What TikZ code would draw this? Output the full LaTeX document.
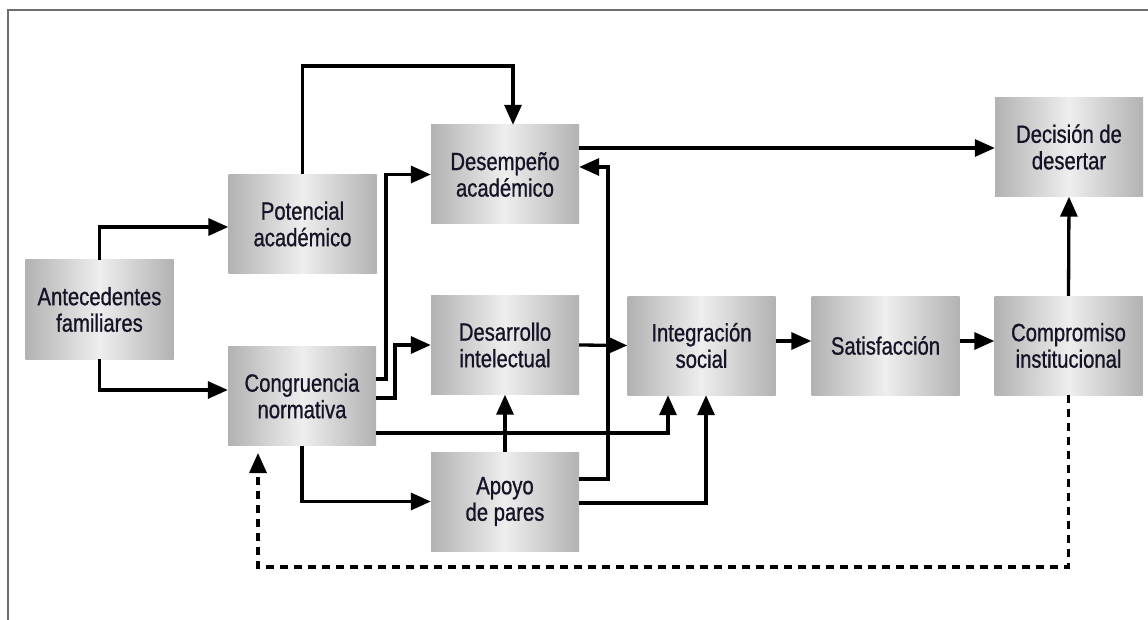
\documentclass[tikz,border=0pt]{standalone}
\usepackage{fontspec}
\setmainfont{Liberation Sans}[FakeStretch=0.81,FakeBold=0.8]
\usetikzlibrary{arrows.meta}
\definecolor{boxedge}{RGB}{178,178,178}
\definecolor{boxmid}{RGB}{238,238,238}
\definecolor{txt}{RGB}{20,20,38}
\definecolor{framec}{RGB}{110,110,110}
\tikzset{
  box/.style={minimum width=148pt, minimum height=99pt, inner sep=0pt,
    left color=boxedge, right color=boxedge, middle color=boxmid,
    align=center, text=txt, font=\fontsize{25}{26.5}\selectfont},
  conn/.style={line width=3.3pt, black, -{Triangle[length=20pt,width=17pt]}},
  fb/.style={line width=3.3pt, black, dash pattern=on 8pt off 6pt, -{Triangle[length=20pt,width=17pt]}},
  framel/.style={line width=2pt, framec}
}
\begin{document}
\begin{tikzpicture}[x=1pt,y=-1pt]
\useasboundingbox (0,0) rectangle (1148,620);
\draw[framel] (8,620) -- (8,10) -- (1148,10);

\node[box] (ant)   at (99.5,309.5) {Antecedentes\\familiares};
\node[box] (pot)   at (302.5,224)  {Potencial\\académico};
\node[box] (cong)  at (302,396)    {Congruencia\\normativa};
\node[box] (desem) at (505,174.5)  {Desempeño\\académico};
\node[box] (desar) at (505,345)    {Desarrollo\\intelectual};
\node[box] (apoyo) at (505,501.5)  {Apoyo\\de pares};
\node[box] (integ) at (701.5,345.5){Integración\\social};
\node[box] (satis) at (885.5,345.5){Satisfacción};
\node[box] (comp)  at (1068.5,345.5){Compromiso\\institucional};
\node[box] (dec)   at (1069,147)   {Decisión de\\desertar};

\coordinate (fbend) at (258,453);

% Antecedentes
\draw[conn] (ant.north) |- (pot.west |- 0,227);
\draw[conn] (ant.south) |- (cong.west |- 0,390);
% Potencial -> Desempeño
\draw[conn] (pot.north) -- (pot.north |- 0,66) -| ([xshift=8pt]desem.north);
% Congruencia
\draw[conn] (cong.east |- 0,379) -- (386,379) |- (desem.west);
\draw[conn] (cong.east |- 0,398) -- (395,398) |- (desar.west);
\draw[conn] (cong.east |- 0,433) -| ([xshift=-33.5pt]integ.south);
\draw[conn] (cong.south) |- (apoyo.west);
% Apoyo
\draw[conn] (apoyo.north) -- (desar.south);
\draw[conn] (apoyo.east |- 0,479) -- (608,479) |- (desem.east |- 0,167);
\draw[conn] (apoyo.east |- 0,503) -| ([xshift=4.5pt]integ.south);
% main chain
\draw[conn] (desar.east) -- (integ.west);
\draw[conn] (desem.east |- 0,148) -- (dec.west |- 0,148);
\draw[conn] (integ.east |- 0,341) -- (satis.west |- 0,341);
\draw[conn] (satis.east |- 0,341) -- (comp.west |- 0,341);
\draw[conn] (comp.north) -- (dec.south);
% feedback
\draw[fb] (comp.south) |- (fbend |- 0,567) -- (fbend);
\end{tikzpicture}
\end{document}
